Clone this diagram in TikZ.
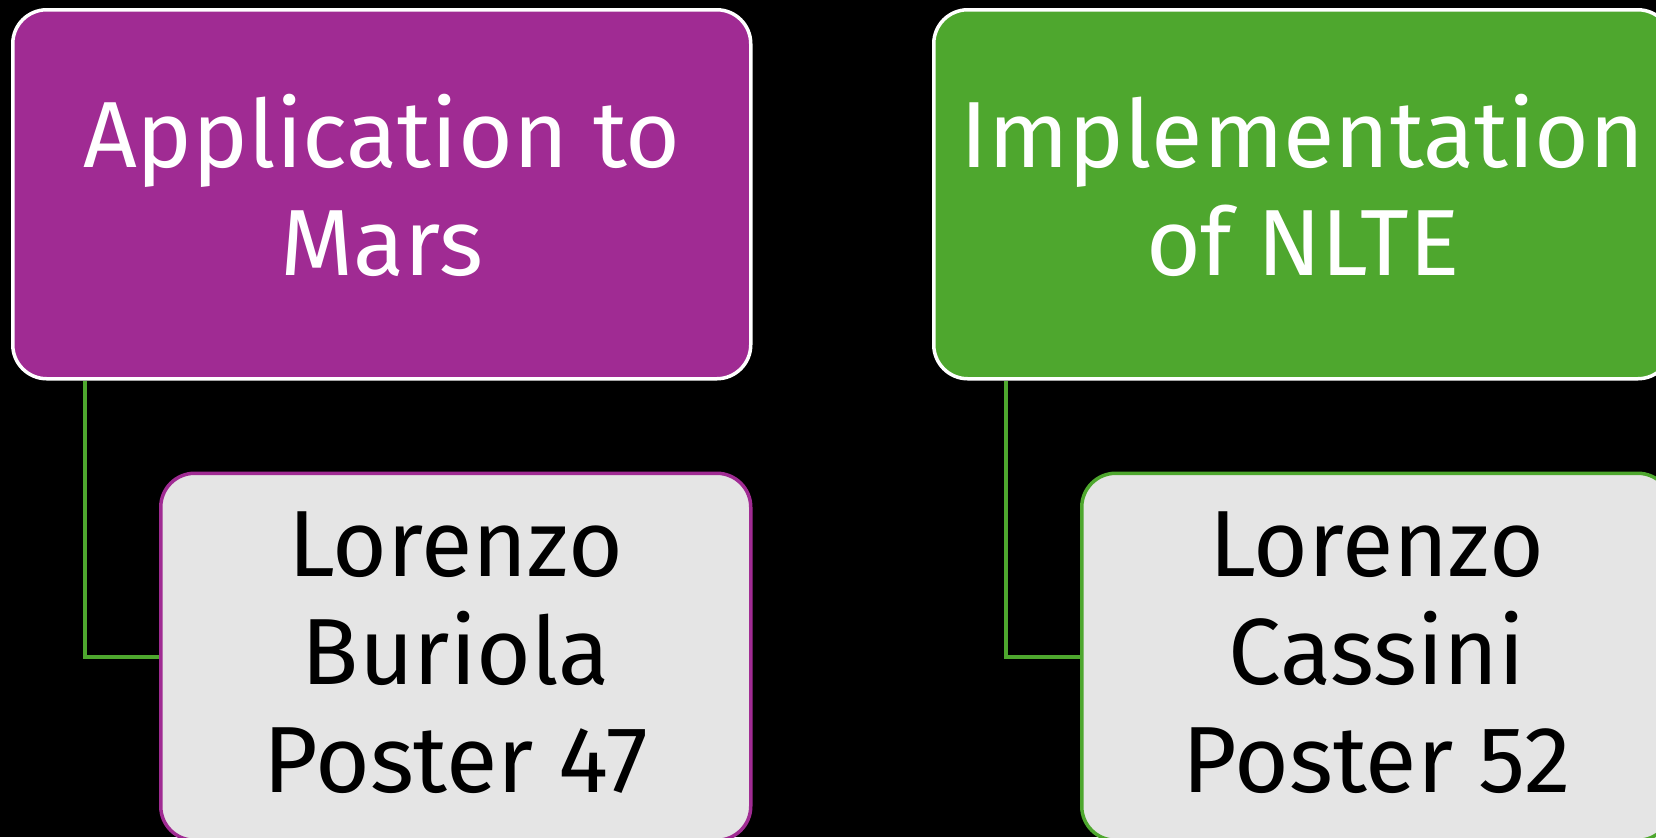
\documentclass[tikz,border=0pt]{standalone}
\usepackage{fontspec}
\setmainfont{Fira Sans}
\usepackage{tikz}
\usetikzlibrary{positioning}
\definecolor{plum}{HTML}{A02B93}
\definecolor{leaf}{HTML}{4EA72E}
\definecolor{paper}{HTML}{E5E5E5}
\newcommand{\linestrut}{\rule[-13.25pt]{0pt}{54pt}}
\tikzset{
  topicbox/.style={draw=white, line width=1.75pt, rounded corners=17pt,
    minimum width=369pt, minimum height=184.5pt, inner sep=0pt, align=center,
    text=white, font=\fontsize{47pt}{54pt}\selectfont},
  personbox/.style={line width=1.75pt, rounded corners=17pt,
    minimum width=295pt, minimum height=183.5pt, inner sep=0pt, align=center,
    fill=paper, text=black, font=\fontsize{47pt}{54pt}\selectfont},
  link/.style={draw=leaf, line width=2pt}
}
\begin{document}
\begin{tikzpicture}[x=0.5pt, y=-0.5pt]
\useasboundingbox (0,0) rectangle (1656,837);
\fill[black] (0,0) rectangle (1656,837);
\clip (0,0) rectangle (1656,837);

% Row 1
\node[topicbox, fill=plum, anchor=north west] (mars) at (11,8)
  {\linestrut Application to\\\linestrut Mars};
\node[topicbox, fill=leaf, anchor=north west] (nlte) at (932,8)
  {\linestrut Implementation\\\linestrut of NLTE};

% Row 2
\node[personbox, draw=plum, below=45.5pt of mars.south east, anchor=north east] (buriola)
  {\linestrut Lorenzo\\\linestrut Buriola\\\linestrut Poster 47};
\node[personbox, draw=leaf, below=45.5pt of nlte.south east, anchor=north east] (cassini)
  {\linestrut Lorenzo\\\linestrut Cassini\\\linestrut Poster 52};

% Connections
\draw[link] ([xshift=37pt]mars.south west) |- (buriola);
\draw[link] ([xshift=37pt]nlte.south west) |- (cassini);
\end{tikzpicture}
\end{document}
